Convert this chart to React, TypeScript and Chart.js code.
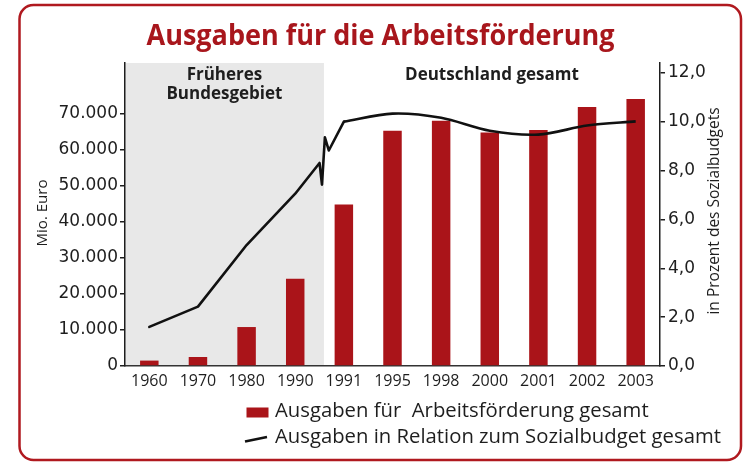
import React, { useEffect, useRef } from 'react';
import { Chart, registerables } from 'chart.js';

Chart.register(...registerables);

// ---------- data ----------
const categories = ['1960', '1970', '1980', '1990', '1991', '1995', '1998', '2000', '2001', '2002', '2003'];
const spending = [1500, 2500, 10800, 24200, 44800, 65200, 68000, 64700, 65400, 71800, 74000];
// share line: x in category-index units (incl. the break symbol between 1990 and 1991)
const sharePositions = [0, 1, 2, 3, 3.5, 3.55, 3.61, 3.69, 4, 5, 6, 7, 8, 9, 10];
const shareValues = [1.6, 2.43, 4.95, 7.05, 8.31, 7.42, 9.36, 8.82, 10.0, 10.33, 10.16, 9.63, 9.47, 9.84, 10.01];
const smoothFrom = 8; // unified Germany part (1991 onwards) is drawn smoothed
const leftTicks = [0, 10000, 20000, 30000, 40000, 50000, 60000, 70000];
const rightTicks = [0, 2, 4, 6, 8, 10, 12];
const regionBoundary = 3.59; // end of "Früheres Bundesgebiet" band, category-index units

const titleText = 'Ausgaben für die Arbeitsförderung';
const regionWest = ['Früheres', 'Bundesgebiet'];
const regionAll = 'Deutschland gesamt';
const legendBar = 'Ausgaben für  Arbeitsförderung gesamt';
const legendLine = 'Ausgaben in Relation zum Sozialbudget gesamt';
const leftTitle = 'Mio. Euro';
const rightTitle = 'in Prozent des Sozialbudgets';

// ---------- styles ----------
const RED = '#aa1419';
const TITLE_RED = '#a8161c';
const INK = '#1e1e1e';
const FONT = "'Open Sans', 'Noto Sans', sans-serif";
const TICK_FONT = "'DejaVu Sans', sans-serif";

const fmtThousands = (v: number) => String(v).replace(/\B(?=(\d{3})+(?!\d))/g, '.');
const fmtDecimal = (v: number) => v.toFixed(1).replace('.', ',');

const sharePoints = sharePositions.map((x, i) => ({ x, y: shareValues[i] }));

const decorations = {
  id: 'decorations',
  beforeDraw(chart: any) {
    const { ctx, chartArea } = chart;
    ctx.save();
    ctx.fillStyle = '#ffffff';
    ctx.fillRect(0, 0, chart.width, chart.height);
    // frame
    ctx.strokeStyle = '#b0191f';
    ctx.lineWidth = 2.5;
    ctx.beginPath();
    ctx.roundRect(19.5, 5, 721.5, 455, 14);
    ctx.stroke();
    // west band
    const xr = chart.scales.x2.getPixelForValue(regionBoundary);
    ctx.fillStyle = '#e8e8e8';
    ctx.fillRect(chartArea.left, chartArea.top, xr - chartArea.left, chartArea.bottom - chartArea.top);
    ctx.restore();
  },
  afterDraw(chart: any) {
    const { ctx, chartArea } = chart;
    const xr = chart.scales.x2.getPixelForValue(regionBoundary);
    ctx.save();
    // title (condensed)
    ctx.font = `bold 28px ${FONT}`;
    ctx.fillStyle = TITLE_RED;
    ctx.textBaseline = 'alphabetic';
    ctx.textAlign = 'center';
    const w = ctx.measureText(titleText).width;
    const sx = 468 / w;
    ctx.save();
    ctx.translate(380.5, 45);
    ctx.scale(sx, 1);
    ctx.fillText(titleText, 0, 0);
    ctx.restore();

    // region labels
    ctx.fillStyle = INK;
    ctx.font = `bold 17px ${FONT}`;
    const cw = (chartArea.left + xr) / 2;
    ctx.fillText(regionWest[0], cw, 80);
    ctx.fillText(regionWest[1], cw, 99);
    ctx.fillText(regionAll, (xr + chartArea.right) / 2, 80);

    // axis titles
    ctx.font = `15px ${FONT}`;
    ctx.textBaseline = 'middle';
    ctx.save();
    ctx.translate(43, 213);
    ctx.rotate(-Math.PI / 2);
    ctx.fillText(leftTitle, 0, 0);
    ctx.restore();
    ctx.font = `15.5px ${FONT}`;
    ctx.save();
    ctx.translate(715, 211);
    ctx.rotate(-Math.PI / 2);
    ctx.fillText(rightTitle, 0, 0);
    ctx.restore();

    // legend
    ctx.fillStyle = RED;
    ctx.fillRect(246.5, 407.5, 22, 10);
    ctx.strokeStyle = '#111';
    ctx.lineWidth = 2.5;
    ctx.beginPath();
    ctx.moveTo(245, 441.5);
    ctx.lineTo(267, 437);
    ctx.stroke();
    ctx.fillStyle = INK;
    ctx.textAlign = 'left';
    ctx.textBaseline = 'alphabetic';
    ctx.font = `20.3px ${FONT}`;
    ctx.fillText(legendBar, 275, 417);
    ctx.fillText(legendLine, 275, 443);
    ctx.restore();
  },
};

export default function App() {
  const ref = useRef<HTMLCanvasElement | null>(null);
  useEffect(() => {
    if (!ref.current) return;
    const chart = new Chart(ref.current, {
      type: 'bar',
      data: {
        labels: categories,
        datasets: [
          {
            type: 'line',
            label: legendLine,
            data: sharePoints.slice(0, smoothFrom + 1),
            xAxisID: 'x2',
            yAxisID: 'y1',
            borderColor: '#111',
            borderWidth: 2.6,
            pointRadius: 0,
            tension: 0,
            borderJoinStyle: 'round',
            borderCapStyle: 'round',
            order: 1,
          } as any,
          {
            type: 'line',
            label: legendLine,
            data: sharePoints.slice(smoothFrom),
            xAxisID: 'x2',
            yAxisID: 'y1',
            borderColor: '#111',
            borderWidth: 2.6,
            pointRadius: 0,
            tension: 0.3,
            borderJoinStyle: 'round',
            order: 1,
          } as any,
          {
            type: 'bar',
            label: legendBar,
            data: spending,
            xAxisID: 'x',
            yAxisID: 'y',
            backgroundColor: RED,
            barPercentage: 0.38,
            categoryPercentage: 1,
            grouped: false,
            order: 2,
          },
        ],
      },
      options: {
        responsive: false,
        animation: false,
        layout: { padding: { top: 63, left: 0, right: 0, bottom: 0 } },
        plugins: { legend: { display: false }, title: { display: false }, tooltip: { enabled: false } },
        scales: {
          x: {
            type: 'category',
            position: 'bottom',
            offset: true,
            grid: { display: false, drawTicks: false },
            border: { display: true, color: '#333', width: 1.5 },
            ticks: {
              color: INK,
              font: { family: FONT, size: 16 },
              padding: 6,
              maxRotation: 0,
              autoSkip: false,
            },
            afterFit: (s: any) => {
              s.height = 96;
            },
          },
          x2: {
            type: 'linear',
            display: false,
            offset: false,
            grid: { offset: false },
            min: -0.5,
            max: 10.5,
          },
          y: {
            type: 'linear',
            position: 'left',
            min: 0,
            max: 84000,
            afterBuildTicks: (s: any) => {
              s.ticks = leftTicks.map((v) => ({ value: v }));
            },
            grid: { drawOnChartArea: false, drawTicks: true, tickLength: 5, color: INK, lineWidth: 1.5 },
            border: { display: true, color: INK, width: 1.5 },
            ticks: {
              color: INK,
              font: { family: TICK_FONT, size: 17 },
              padding: 2,
              callback: (v: any) => fmtThousands(Number(v)),
            },
            afterFit: (s: any) => {
              s.width = 125;
            },
          },
          y1: {
            type: 'linear',
            position: 'right',
            min: 0,
            max: 12.4,
            afterBuildTicks: (s: any) => {
              s.ticks = rightTicks.map((v) => ({ value: v }));
            },
            grid: { drawOnChartArea: false, drawTicks: true, tickLength: 5, color: INK, lineWidth: 1.5 },
            border: { display: true, color: INK, width: 1.5 },
            ticks: {
              color: INK,
              font: { family: TICK_FONT, size: 17 },
              padding: 3,
              callback: (v: any) => fmtDecimal(Number(v)),
            },
            afterFit: (s: any) => {
              s.width = 85;
            },
          },
        },
      },
      plugins: [decorations],
    } as any);
    return () => chart.destroy();
  }, []);
  return (
    <div style={{ position: 'fixed', left: 0, top: 0, width: 745, height: 462, background: '#fff' }}>
      <canvas ref={ref} width={745} height={462} style={{ display: 'block', width: 745, height: 462 }} />
    </div>
  );
}
